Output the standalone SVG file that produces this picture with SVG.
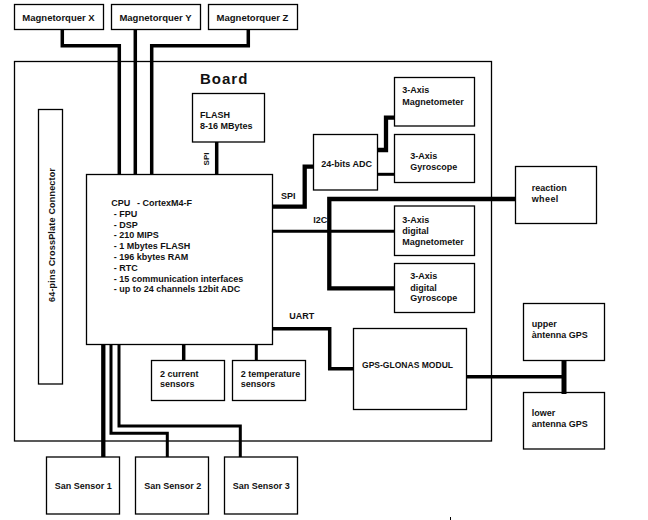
<svg xmlns="http://www.w3.org/2000/svg" width="648" height="520" viewBox="0 0 648 520">
<style>
.box{fill:none;stroke:#000;stroke-width:1.3}
.t{font-family:"Liberation Sans",Arial,sans-serif;font-weight:bold;font-size:9px;fill:#111}
.w{fill:none;stroke:#000;stroke-width:3.5;stroke-linejoin:miter;stroke-linecap:butt}
.w4{stroke-width:4.3}
.w3{stroke-width:3}
</style>
<rect width="648" height="520" fill="#fff"/>
<g id="board"><rect class="box" x="14.5" y="61.5" width="477" height="379.5"/>
<text class="t" x="200" y="84" style="font-size:15px;letter-spacing:1px">Board</text></g>
<g id="connectors">
<path class="w" d="M62.3,29 V45.7 H119.3 V174.5"/>
<path class="w" d="M135.3,29 V174.5"/>
<path class="w" d="M248.3,29 V45.7 H151.7 V174.5"/>
<path class="w" d="M216.7,142 V174.5"/>
<path class="w w4" d="M272.5,206.7 H304.7 V166.7 H313.5"/>
<path class="w w4" d="M377.5,150 H386 V117.7 H394.5"/>
<path class="w w3" d="M377.5,174.3 H394.5"/>
<path class="w w3" d="M272.5,231.3 H394.5"/>
<path class="w w4" d="M515.5,199 H329.3 V288.3 H394.5"/>
<path class="w" d="M272.5,328.7 H329.7 V368.7 H354"/>
<path class="w" d="M466.7,376.7 H564"/>
<path class="w" style="stroke-width:5" d="M564,360 V394"/>
<path class="w" d="M183.7,344.5 V360.5"/>
<path class="w w3" d="M256.3,344.5 V360.5"/>
<path class="w w4" d="M103.3,344.5 V457"/>
<path class="w w3" d="M111,344.5 V433.3 H167.3 V457"/>
<path class="w w3" d="M119,344.5 V426 H240.3 V457"/>
</g>
<g id="mtx"><rect class="box" x="14.5" y="4.5" width="89" height="25"/><text class="t" x="58.5" y="21" text-anchor="middle" style="font-size:9.5px">Magnetorquer X</text></g>
<g id="mty"><rect class="box" x="111.5" y="4.5" width="89" height="25"/><text class="t" x="155.5" y="21" text-anchor="middle" style="font-size:9.5px">Magnetorquer Y</text></g>
<g id="mtz"><rect class="box" x="208.5" y="4.5" width="89" height="25"/><text class="t" x="252.5" y="21" text-anchor="middle" style="font-size:9.5px">Magnetorquer Z</text></g>
<g id="crossplate"><rect class="box" x="38.5" y="109.5" width="24" height="274.5"/>
<text class="t" transform="translate(55,235) rotate(-90)" text-anchor="middle" textLength="134" lengthAdjust="spacing">64-pins CrossPlate Connector</text></g>
<g id="cpu"><rect class="box" x="86.5" y="174.5" width="186" height="170"/>
<text class="t" x="111.3" y="206">CPU<tspan x="137">- CortexM4-F</tspan></text>
<text class="t" x="113.7" y="216.8">- FPU</text>
<text class="t" x="113.7" y="227.6">- DSP</text>
<text class="t" x="113.7" y="238.4">- 210 MIPS</text>
<text class="t" x="113.7" y="249.2">- 1 Mbytes FLASH</text>
<text class="t" x="113.7" y="260">- 196 kbytes RAM</text>
<text class="t" x="113.7" y="270.8">- RTC</text>
<text class="t" x="113.7" y="281.6">- 15 communication interfaces</text>
<text class="t" x="113.7" y="292.4">- up to 24 channels 12bit ADC</text>
<text class="t" x="281" y="199">SPI</text>
<text class="t" x="313.3" y="223.3">I2C</text>
<text class="t" x="289.3" y="319.3">UART</text></g>
<g id="flash"><rect class="box" x="192.5" y="93.5" width="72" height="48.5"/>
<text class="t" x="200" y="117.7">FLASH</text><text class="t" x="200" y="129.3">8-16 MBytes</text>
<text class="t" transform="translate(209,159) rotate(-90)" text-anchor="middle" style="font-size:8px">SPI</text></g>
<g id="adc"><rect class="box" x="313.5" y="134.5" width="64" height="55.5"/><text class="t" x="321.3" y="166.7">24-bits ADC</text></g>
<g id="mag"><rect class="box" x="394.5" y="77.5" width="80" height="48.5"/><text class="t" x="402.3" y="93.3">3-Axis</text><text class="t" x="402.3" y="104.7">Magnetometer</text></g>
<g id="gyro"><rect class="box" x="394.5" y="134.5" width="80" height="48"/><text class="t" x="410.3" y="158.7">3-Axis</text><text class="t" x="410.3" y="169.7">Gyroscope</text></g>
<g id="dmag"><rect class="box" x="394.5" y="206" width="80" height="49.5"/><text class="t" x="402.3" y="222.7">3-Axis</text><text class="t" x="402.3" y="233.5">digital</text><text class="t" x="402.3" y="244.7">Magnetometer</text></g>
<g id="dgyro"><rect class="box" x="394.5" y="263.5" width="80" height="49"/><text class="t" x="410.3" y="279.3">3-Axis</text><text class="t" x="410.3" y="290.5">digital</text><text class="t" x="410.3" y="301.3">Gyroscope</text></g>
<g id="wheel"><rect class="box" x="515.5" y="166.5" width="81" height="57"/><text class="t" x="531.7" y="190.7">reaction</text><text class="t" x="531.7" y="201.7" style="letter-spacing:0.4px">wheel</text></g>
<g id="gps"><rect class="box" x="353.5" y="328.5" width="113" height="81"/><text class="t" x="362" y="368.3" textLength="91" lengthAdjust="spacingAndGlyphs">GPS-GLONAS MODUL</text></g>
<g id="upper"><rect class="box" x="523.5" y="303.5" width="81" height="57"/><text class="t" x="531.7" y="327.3">upper</text><text class="t" x="531.7" y="337.8">àntenna GPS</text></g>
<g id="lower"><rect class="box" x="523.5" y="392.5" width="81" height="56.5"/><text class="t" x="531.7" y="416.3">lower</text><text class="t" x="531.7" y="427">antenna GPS</text></g>
<g id="current"><rect class="box" x="151.5" y="360.5" width="73" height="40"/><text class="t" x="160" y="376.7">2 current</text><text class="t" x="160" y="387.3">sensors</text></g>
<g id="temp"><rect class="box" x="232.5" y="360.5" width="73" height="40"/><text class="t" x="240.7" y="376.7">2 temperature</text><text class="t" x="240.7" y="387.3">sensors</text></g>
<g id="san1"><rect class="box" x="46.5" y="457" width="73" height="57"/><text class="t" x="83.2" y="489.3" text-anchor="middle">San Sensor 1</text></g>
<g id="san2"><rect class="box" x="135.5" y="457" width="73" height="57"/><text class="t" x="172.7" y="489.3" text-anchor="middle">San Sensor 2</text></g>
<g id="san3"><rect class="box" x="224.5" y="457" width="73" height="57"/><text class="t" x="261.3" y="489.3" text-anchor="middle">San Sensor 3</text></g>
<line x1="450.5" y1="517" x2="450.5" y2="520" stroke="#000" stroke-width="1"/>
</svg>
